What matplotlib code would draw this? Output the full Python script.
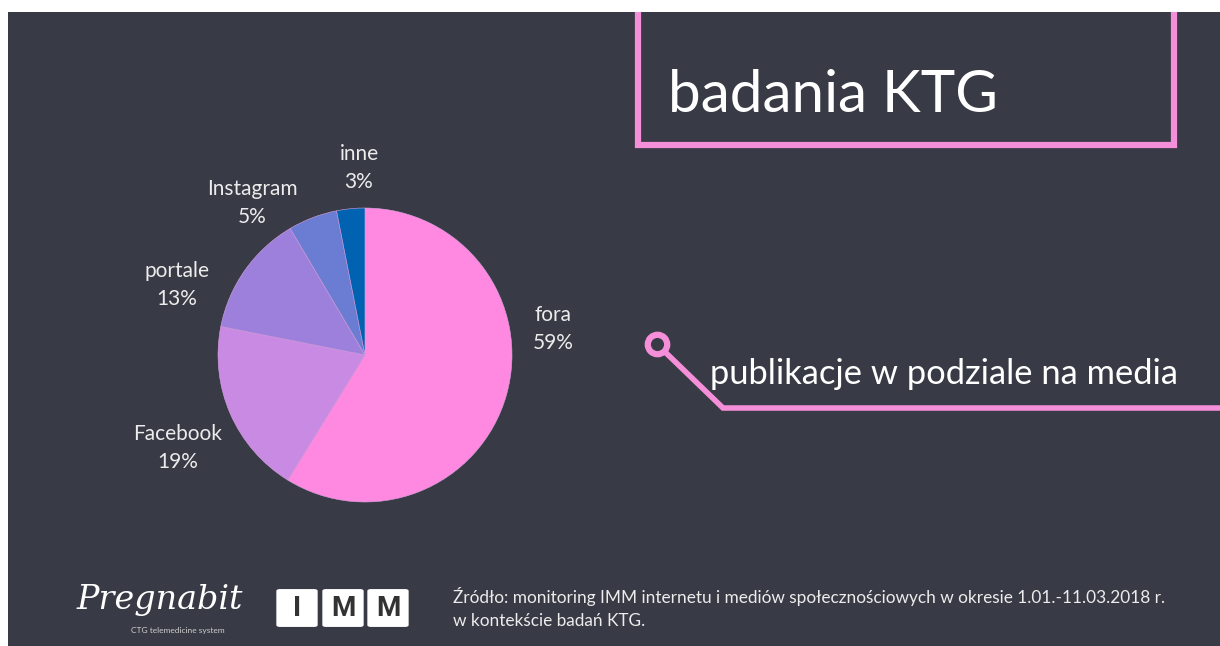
import matplotlib.pyplot as plt
from matplotlib.patches import Rectangle, FancyBboxPatch
from matplotlib.lines import Line2D

plt.rcParams['font.family'] = ['Lato', 'DejaVu Sans']

W, H = 1220, 646

# dane
kategorie = ['fora', 'Facebook', 'portale', 'Instagram', 'inne']
udzialy = [58.8, 19.3, 13.4, 5.4, 3.1]
etykiety_proc = ['59%', '19%', '13%', '5%', '3%']
kolory = ['#ff89e0', '#c98ae3', '#9d80dc', '#6b7dd2', '#0062b0']

tytul = 'badania KTG'
podtytul = 'publikacje w podziale na media'
zrodlo = ['Źródło: monitoring IMM internetu i mediów społecznościowych w okresie 1.01.-11.03.2018 r.',
          'w kontekście badań KTG.']

BG = '#383a45'
PINK = '#f68fda'
TXT = '#ececec'


def fx(x):
    return x / W


def fy(y):
    return 1 - y / H


fig = plt.figure(figsize=(W / 100, H / 100), dpi=100, facecolor='white')
fig.patches.append(Rectangle((fx(8), 0), 1, fy(12), transform=fig.transFigure,
                             facecolor=BG, edgecolor='none', zorder=-5))

# pie
cx, cy, r = 365, 355, 147
ax = fig.add_axes([fx(cx - r), fy(cy + r), 2 * r / W, 2 * r / H], zorder=2)
ax.pie(udzialy, colors=kolory, startangle=90, counterclock=False,
       wedgeprops=dict(linewidth=0.4, edgecolor='#d9a0e0'))
ax.set_xlim(-1, 1)
ax.set_ylim(-1, 1)
ax.set_aspect('equal')
ax.axis('off')

# etykiety
pozycje = [(553, 329), (178, 448), (177, 285), (252, 203), (359, 168)]
for (px_, py_), k, p in zip(pozycje, kategorie, etykiety_proc):
    fig.text(fx(px_), fy(py_), k + '\n' + p, ha='center', va='center',
             fontsize=15, color=TXT, linespacing=1.5)

# ramka tytułu
fig.add_artist(Line2D([fx(638), fx(638), fx(1174), fx(1174)],
                      [fy(12), fy(145), fy(145), fy(12)],
                      transform=fig.transFigure, color=PINK, lw=4.5,
                      solid_joinstyle='miter', solid_capstyle='butt'))
fig.text(fx(668), fy(96), tytul, ha='left', va='center', fontsize=42,
         color='white')

# linia z kółkiem
fig.add_artist(Line2D([fx(663), fx(723), fx(1220)], [fy(350), fy(408), fy(408)],
                      transform=fig.transFigure, color=PINK, lw=4,
                      solid_joinstyle='miter', solid_capstyle='butt'))
fig.add_artist(Line2D([fx(657)], [fy(344)], transform=fig.transFigure, marker='o',
                      markersize=14, markerfacecolor=BG, markeredgecolor=PINK,
                      markeredgewidth=4.5, linestyle='none'))
fig.text(fx(710), fy(374), podtytul, ha='left', va='center', fontsize=24.8,
         color='white')

# stopka
fig.text(fx(453), fy(597), zrodlo[0], ha='left', va='center', fontsize=12.45, color=TXT)
fig.text(fx(453), fy(621), zrodlo[1], ha='left', va='center', fontsize=12.45, color=TXT)

# logo Pregnabit
fig.text(fx(160), fy(600), 'Pregnabit', ha='center', va='center', fontsize=24,
         color='white', family='DejaVu Serif', style='italic')
fig.text(fx(178), fy(630), 'CTG telemedicine system', ha='center', va='center',
         fontsize=6, color='#cfcfcf')

# logo IMM
for x0, lit in zip([277, 323, 368], ['I', 'M', 'M']):
    fig.patches.append(FancyBboxPatch((fx(x0 + 3), fy(625)), fx(34), 34 / H,
                                      boxstyle='round,pad=0.003', transform=fig.transFigure,
                                      facecolor='white', edgecolor='none'))
    fig.text(fx(x0 + 20), fy(608), lit, ha='center', va='center', fontsize=20,
             color='#333333', fontweight='bold', family='Roboto')

fig.savefig('out.png', dpi=100, facecolor='white')
